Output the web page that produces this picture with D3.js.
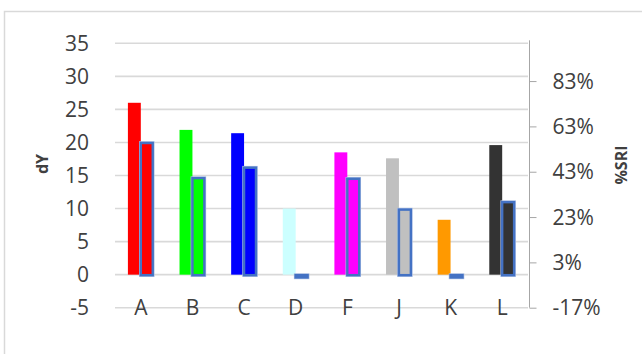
<!DOCTYPE html>
<html><head><meta charset="utf-8">
<script src="https://cdn.jsdelivr.net/npm/d3@7"></script>
<style>
html,body{margin:0;padding:0;background:#fff;}
svg{display:block;}
text{font-family:"Open Sans","Noto Sans",sans-serif;fill:#404040;}
</style></head><body>
<svg id="chart" width="642" height="354"></svg>
<script>
// Data
const categories = ["A","B","C","D","F","J","K","L"];
const dY = [26.0, 21.9, 21.4, 10.0, 18.5, 17.6, 8.3, 19.6];
const sri = [56.0, 40.5, 45.1, -3.3, 40.2, 26.6, -3.3, 29.9];
const colors = ["#FF0000","#00FF00","#0000FF","#CCFFFF","#FF00FF","#C0C0C0","#FF9900","#333333"];
const leftTicks = [-5,0,5,10,15,20,25,30,35];
const leftTickLabels = ["-5","0","5","10","15","20","25","30","35"];
const rightTicks = [-16.67, 3.33, 23.33, 43.33, 63.33, 83.33];
const rightTickLabels = ["-17%","3%","23%","43%","63%","83%"];
const sriBase = -2.3; // value where secondary bars originate (horizontal axis crossing)

const svg = d3.select("#chart");

// chart area border
svg.append("rect").attr("x",4.5).attr("y",11.5).attr("width",700).attr("height",400)
  .attr("fill","none").attr("stroke","#D9D9D9").attr("stroke-width",1.5);

const plot = {left:115, right:528, top:43.3, bottom:307.7};
const x = d3.scaleBand().domain(categories).range([plot.left, plot.right]).padding(0);
const y = d3.scaleLinear().domain([-5,35]).range([plot.bottom, plot.top]);
const y2 = d3.scaleLinear().domain([-16.67,100]).range([plot.bottom, plot.top]);

// gridlines
svg.append("g").selectAll("line").data(leftTicks).join("line")
  .attr("x1",plot.left).attr("x2",plot.right)
  .attr("y1",d=>y(d)).attr("y2",d=>y(d))
  .attr("stroke","#D9D9D9").attr("stroke-width",1.6);

// left axis labels
const yAxis = d3.axisLeft(y).tickValues(leftTicks).tickSize(0).tickPadding(0)
  .tickFormat((d,i)=>leftTickLabels[i]);
const gL = svg.append("g").attr("transform","translate(89,0)").call(yAxis);
gL.select(".domain").remove();
gL.selectAll("text").attr("font-size",21).attr("fill","#404040")
  .style("font-family",'"Open Sans","Noto Sans",sans-serif').attr("dy","0.34em");

// right axis
const y2Axis = d3.axisRight(y2).tickValues(rightTicks).tickSize(7).tickPadding(16)
  .tickFormat((d,i)=>rightTickLabels[i]);
const gR = svg.append("g").attr("transform",`translate(${plot.right+1.5},0)`).call(y2Axis);
gR.select(".domain").attr("stroke","#A6A6A6").attr("d",`M0,${plot.top-3}V${plot.bottom}`);
gR.selectAll(".tick line").attr("stroke","#A6A6A6");
gR.selectAll("text").attr("font-size",21).attr("fill","#404040")
  .style("font-family",'"Open Sans","Noto Sans",sans-serif').attr("dy","0.34em");

// x axis labels
const xAxis = d3.axisBottom(x).tickSize(0).tickPadding(0);
const gX = svg.append("g").attr("transform",`translate(0,${plot.bottom-8})`).call(xAxis);
gX.select(".domain").remove();
gX.selectAll("text").attr("font-size",21).attr("fill","#404040")
  .style("font-family",'"Open Sans","Noto Sans",sans-serif');

const bw = x.bandwidth()/4;

// primary bars
svg.append("g").selectAll("rect").data(categories).join("rect")
  .attr("x",d=>x(d)+x.bandwidth()/2-bw)
  .attr("width",bw)
  .attr("y",(d,i)=>Math.min(y(dY[i]),y(0)))
  .attr("height",(d,i)=>Math.abs(y(0)-y(dY[i])))
  .attr("fill",(d,i)=>colors[i]);

// secondary bars (outlined)
const g2 = svg.append("g");
categories.forEach((c,i)=>{
  const cx = x(c)+x.bandwidth()/2;
  const top = Math.min(y2(sri[i]),y2(sriBase));
  const h = Math.abs(y2(sri[i])-y2(sriBase));
  g2.append("rect").attr("x",cx).attr("width",bw-1).attr("y",top).attr("height",h)
    .attr("fill",colors[i]).attr("stroke","#A9BDE3").attr("stroke-width",3.6);
  g2.append("rect").attr("x",cx).attr("width",bw-1).attr("y",top).attr("height",h)
    .attr("fill",colors[i]).attr("stroke","#4472C4").attr("stroke-width",2.4);
});

// axis titles
svg.append("text").attr("transform","translate(48,164) rotate(-90)")
  .attr("text-anchor","middle").attr("font-size",16).attr("font-weight","bold")
  .attr("fill","#262626").text("dY");
svg.append("text").attr("transform","translate(627,165) rotate(-90)")
  .attr("text-anchor","middle").attr("font-size",16).attr("font-weight","bold")
  .attr("fill","#262626").text("%SRI");
</script>
</body></html>
